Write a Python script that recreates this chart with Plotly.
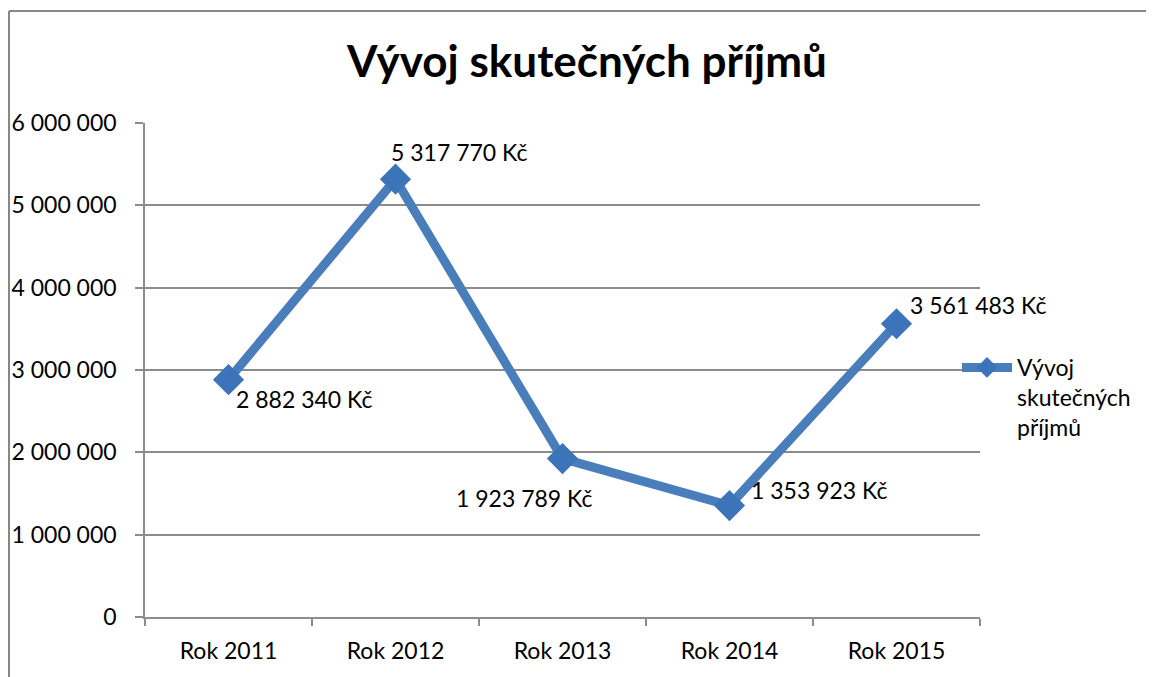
import plotly.graph_objects as go

categories = ["Rok 2011", "Rok 2012", "Rok 2013", "Rok 2014", "Rok 2015"]
values = [2882340, 5317770, 1923789, 1353923, 3561483]
series_name = "Vývoj skutečných příjmů"
legend_label = "Vývoj<br>skutečných<br>příjmů"
y_ticks = [0, 1000000, 2000000, 3000000, 4000000, 5000000, 6000000]

# label offsets (pixels) for data labels, style only
label_dx = [75, 63, -39, 89, 81]
label_dy = [-19, 27, -39, 16, 19]

FONT = "Lato, 'Open Sans', sans-serif"
LINE_C = "#4A7EBB"
GRID_C = "#8C8C8C"
FS = 23

def fmt(v):
    return f"{v:,}".replace(",", " ") + " Kč"

fig = go.Figure()
fig.add_trace(go.Scatter(
    x=categories, y=values, mode="lines+markers", name=legend_label,
    line=dict(color=LINE_C, width=9),
    marker=dict(symbol="diamond", size=24, color="#3D73B9", line=dict(width=0)),
    showlegend=True,
))

for c, v, dx, dy in zip(categories, values, label_dx, label_dy):
    fig.add_annotation(x=c, y=v, text=fmt(v), showarrow=False,
                       xshift=dx, yshift=dy, xanchor="center", yanchor="middle",
                       font=dict(family=FONT, size=FS, color="black"))

# page body has an 8px offset; positions below are in screenshot pixels
OFF = 8
W, H = 1154, 677
L, R, T, B = 145 - OFF, 1154 - (980 - OFF), 123 - OFF, 677 - (617 - OFF)
pw, ph = W - L - R, H - T - B
def px(x): return (x - OFF - L) / pw
def py(y): return (H - B - (y - OFF)) / ph

# outer chart frame (only top and left visible)
fig.add_shape(type="line", xref="paper", yref="paper", x0=px(9), x1=px(1200), y0=py(11), y1=py(11),
              line=dict(color="#878787", width=2))
fig.add_shape(type="line", xref="paper", yref="paper", x0=px(9), x1=px(9), y0=py(11), y1=py(720),
              line=dict(color="#878787", width=2))

fig.update_layout(
    width=W, height=H,
    margin=dict(l=L, r=R, t=T, b=B, autoexpand=False),
    paper_bgcolor="white", plot_bgcolor="white",
    separators=", ",
    title=dict(text="<b>" + series_name + "</b>", x=(587 - OFF) / W, xanchor="center",
               y=1 - (62 - OFF) / H, yanchor="middle",
               font=dict(family=FONT, size=44, color="black")),
    font=dict(family=FONT, size=FS, color="black"),
    legend=dict(x=px(957), y=py(346), xanchor="left", yanchor="top",
                font=dict(family=FONT, size=FS, color="black"),
                bgcolor="rgba(0,0,0,0)", valign="top", itemwidth=50),
    xaxis=dict(type="category", range=[-0.5, 4.5], tickson="boundaries", automargin=False,
               showline=True, linecolor=GRID_C, linewidth=1.5,
               ticks="outside", ticklen=7, tickcolor=GRID_C, tickwidth=1.5,
               showgrid=False, tickfont=dict(size=FS), ticklabelstandoff=13),
    yaxis=dict(range=[0, 6000000], tickvals=y_ticks, tickformat=",d", automargin=False,
               showline=True, linecolor=GRID_C, linewidth=1.5,
               ticks="outside", ticklen=8, tickcolor=GRID_C, tickwidth=1.5,
               showgrid=True, gridcolor=GRID_C, gridwidth=1.5,
               zeroline=False, tickfont=dict(size=FS), ticklabelstandoff=14),
)

fig.write_html("out.html")
